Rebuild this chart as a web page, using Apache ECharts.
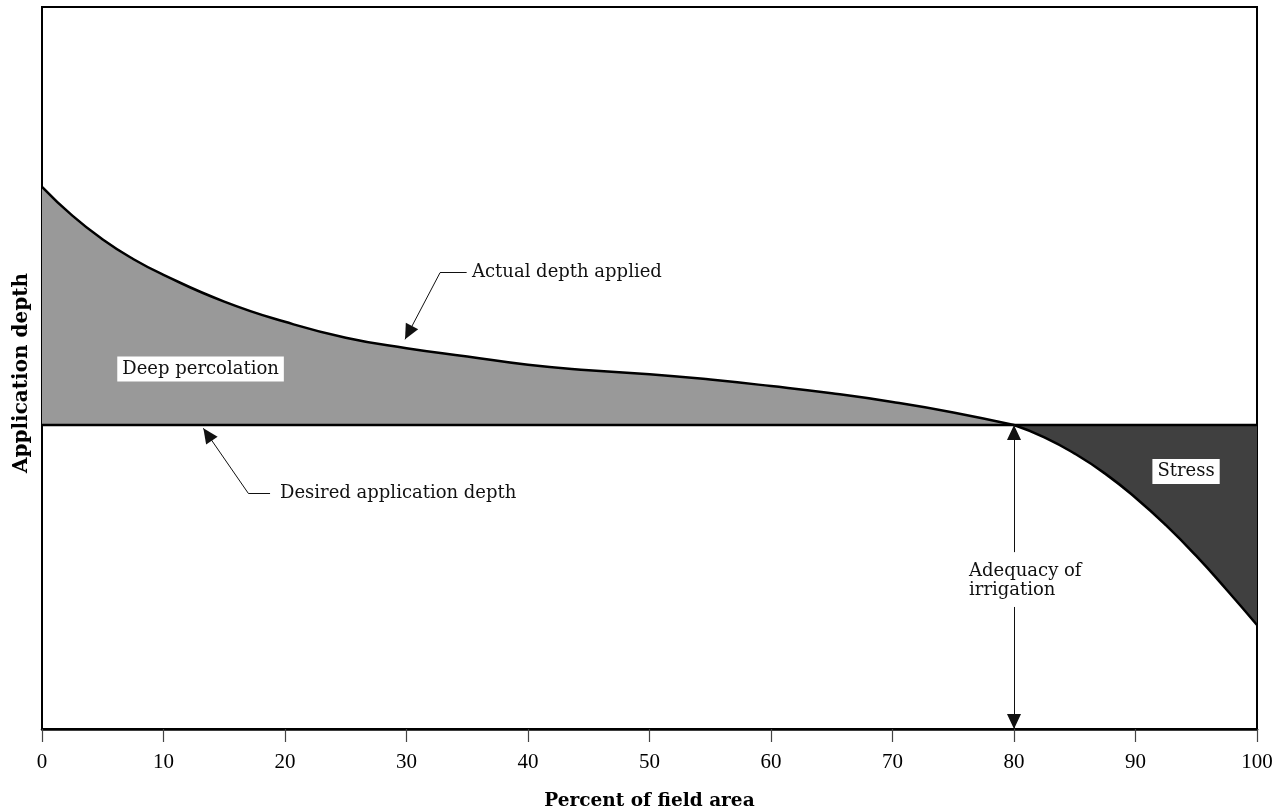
<!DOCTYPE html>
<html>
<head>
<meta charset="utf-8">
<script src="https://cdn.jsdelivr.net/npm/echarts@6/dist/echarts.min.js"></script>
<style>html,body{margin:0;padding:0;background:#fff}#c{width:1278px;height:811px}</style>
</head>
<body>
<div id="c"></div>
<script>
// Percent of field area (x) and actual depth applied (relative units, y)
const percentArea = [0, 2.5, 5, 7.5, 10, 15, 20, 25, 30, 35, 40, 45, 50, 55, 60, 65, 70, 75, 80, 82.5, 85, 87.5, 90, 92.5, 95, 97.5, 100];
const actualDepth = [75.1, 71.1, 67.8, 65.1, 62.9, 59.2, 56.4, 54.2, 52.75, 51.6, 50.45, 49.7, 49.15, 48.4, 47.5, 46.5, 45.3, 43.85, 42.1, 40.4, 38.14, 35.37, 32.03, 28.23, 23.97, 19.29, 14.4];
const desiredDepth = 42.1;
const adequacyPercent = 80;
const xTickValues = [0, 10, 20, 30, 40, 50, 60, 70, 80, 90, 100];

// annotation anchors, in data units
const actualLeader = [[34.95, 63.2], [32.76, 63.2], [29.88, 53.97]];
const desiredLeader = [[18.77, 32.64], [16.98, 32.64], [13.28, 41.65]];
const adequacyGap = [24.5, 16.9];
const labelDeep = [13.05, 49.86];
const labelStress = [94.16, 35.66];
const labelActual = [35.39, 63.2];
const labelDesired = [19.59, 32.64];
const labelAdequacy = [76.3, 20.5];

const pairs = (xs, ys) => xs.map((x, i) => [x, ys[i]]);
const allPts = pairs(percentArea, actualDepth);
const deepPts = allPts.filter(p => p[0] <= adequacyPercent);
const stressPts = allPts.filter(p => p[0] >= adequacyPercent);

const serif = '"DejaVu Serif", serif';
const annText = {fontFamily: serif, fontSize: 18, color: '#111'};
const arrowSize = [14, 15];
const arrowEnd = {symbol: 'triangle', symbolSize: arrowSize, symbolOffset: [0, 7.5]};

const chart = echarts.init(document.getElementById('c'), null, {renderer: 'canvas'});
chart.setOption({
  animation: false,
  backgroundColor: '#fff',
  grid: {left: 42, right: 21, top: 7, bottom: 82, show: true, borderColor: '#000', borderWidth: 2,
    backgroundColor: 'transparent', containLabel: false, outerBoundsMode: 'none'},
  xAxis: {
    type: 'value', min: 0, max: 100, interval: 10,
    name: 'Percent of field area', nameLocation: 'middle', nameGap: 63,
    nameTextStyle: {fontFamily: serif, fontWeight: 'bold', fontSize: 18.5, color: '#000'},
    axisLine: {show: true, onZero: false, lineStyle: {color: '#000', width: 2.5}},
    axisTick: {show: true, inside: false, length: 13, lineStyle: {color: '#444', width: 1.2}},
    axisLabel: {fontFamily: '"Liberation Serif", serif', fontSize: 21, color: '#000', margin: 23,
      formatter: v => xTickValues.includes(v) ? String(v) : ''},
    splitLine: {show: false}
  },
  yAxis: {
    type: 'value', min: 0, max: 100,
    name: 'Application depth', nameLocation: 'middle', nameGap: 10, nameRotate: 90,
    nameTextStyle: {fontFamily: serif, fontWeight: 'bold', fontSize: 20, color: '#000', padding: [0, 10, 0, 0]},
    axisLine: {show: true, lineStyle: {color: '#000', width: 2}},
    axisTick: {show: false}, axisLabel: {show: false}, splitLine: {show: false}
  },
  series: [
    {
      name: 'Deep percolation', type: 'line', data: deepPts, smooth: 0.5,
      symbol: 'none', lineStyle: {color: '#000', width: 2.5},
      areaStyle: {color: '#999999', opacity: 1, origin: desiredDepth}, z: 2, silent: true
    },
    {
      name: 'Stress', type: 'line', data: stressPts, smooth: 0.5,
      symbol: 'none', lineStyle: {color: '#000', width: 2.5},
      areaStyle: {color: '#404040', opacity: 1, origin: desiredDepth}, z: 2, silent: true
    },
    {
      name: 'Desired application depth', type: 'line',
      data: [[0, desiredDepth], [100, desiredDepth]],
      symbol: 'none', lineStyle: {color: '#000', width: 2.5}, z: 3, silent: true,
      markLine: {
        silent: true, animation: false, symbol: 'none',
        lineStyle: {color: '#111', width: 1, type: 'solid'},
        label: {show: false}, emphasis: {disabled: true},
        data: [
          [{coord: actualLeader[0], symbol: 'none'}, {coord: actualLeader[1], symbol: 'none'}],
          [{coord: actualLeader[1], symbol: 'none'}, Object.assign({coord: actualLeader[2]}, arrowEnd)],
          [{coord: desiredLeader[0], symbol: 'none'}, {coord: desiredLeader[1], symbol: 'none'}],
          [{coord: desiredLeader[1], symbol: 'none'}, Object.assign({coord: desiredLeader[2]}, arrowEnd)],
          [Object.assign({coord: [adequacyPercent, desiredDepth]}, arrowEnd), {coord: [adequacyPercent, adequacyGap[0]], symbol: 'none'}],
          [{coord: [adequacyPercent, adequacyGap[1]], symbol: 'none'}, Object.assign({coord: [adequacyPercent, 0]}, arrowEnd)]
        ]
      },
      markPoint: {
        silent: true, animation: false, symbol: 'circle', symbolSize: 0,
        itemStyle: {color: 'transparent'},
        data: [
          {coord: labelDeep, label: Object.assign({show: true, position: 'inside', formatter: 'Deep percolation', backgroundColor: '#fff', padding: [4, 5, 3, 5]}, annText)},
          {coord: labelStress, label: Object.assign({show: true, position: 'inside', formatter: 'Stress', backgroundColor: '#fff', padding: [4, 5, 3, 5]}, annText)},
          {coord: labelActual, label: Object.assign({show: true, position: 'right', distance: 0, align: 'left', formatter: 'Actual depth applied'}, annText)},
          {coord: labelDesired, label: Object.assign({show: true, position: 'right', distance: 0, align: 'left', formatter: 'Desired application depth'}, annText)},
          {coord: labelAdequacy, label: Object.assign({show: true, position: 'right', distance: 0, align: 'left', lineHeight: 19, formatter: 'Adequacy of\nirrigation'}, annText)}
        ]
      }
    }
  ]
});
</script>
</body>
</html>
